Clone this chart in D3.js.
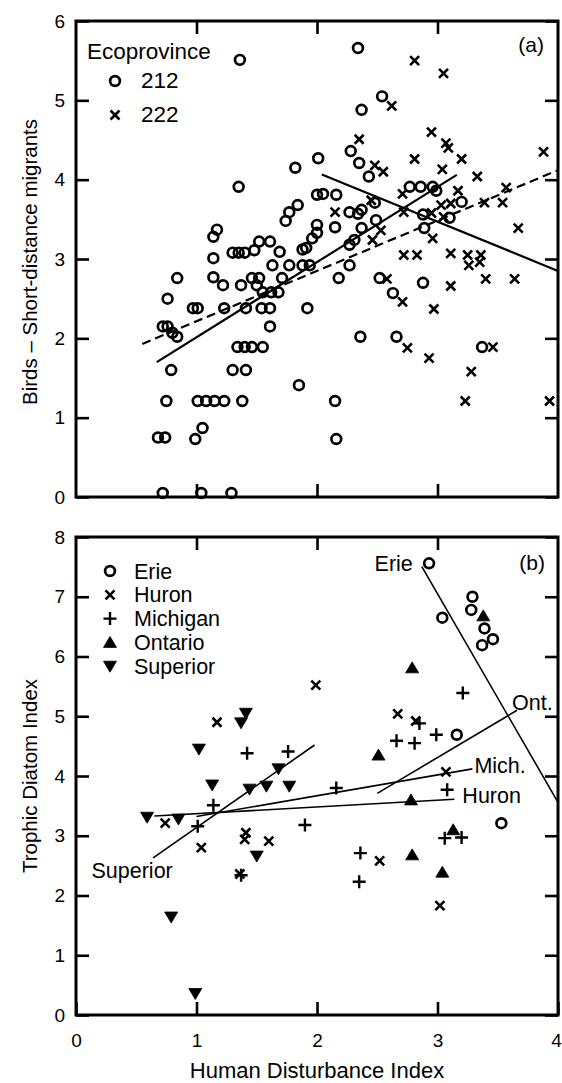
<!DOCTYPE html>
<html>
<head>
<meta charset="utf-8">
<script src="https://cdn.jsdelivr.net/npm/d3@7"></script>
<style>
  body { margin: 0; background: #fff; }
  text { font-family: "Liberation Sans", Arial, Helvetica, sans-serif; fill: #000; }
</style>
</head>
<body>
<svg id="chart" width="562" height="1083"></svg>
<script>
// ---- panel (a): birds, short-distance migrants ----
var eco212 = [
  [1.36,5.51],[2.34,5.66],[2.54,5.05],[2.37,4.88],[2.28,4.36],[1.82,4.15],[2.01,4.27],[2.35,4.21],
  [2.43,4.04],[1.35,3.91],[2.00,3.81],[2.05,3.82],[2.16,3.81],[1.84,3.68],[1.77,3.59],[1.74,3.48],
  [2.77,3.91],[2.86,3.91],[2.96,3.91],[2.99,3.86],[2.48,3.71],[3.20,3.72],[2.27,3.59],[2.34,3.57],
  [2.37,3.62],[2.49,3.49],[2.00,3.43],[2.00,3.33],[1.96,3.26],[1.91,3.14],[2.15,3.40],[2.37,3.39],
  [2.31,3.24],[2.27,3.18],[2.89,3.39],[2.88,3.56],[3.10,3.52],[1.17,3.37],[1.14,3.28],[1.30,3.08],
  [1.35,3.08],[1.40,3.08],[1.48,3.11],[1.52,3.22],[1.61,3.22],[1.69,3.09],[1.88,3.12],[1.14,3.01],
  [1.63,2.92],[1.77,2.92],[1.88,2.92],[1.94,2.92],[2.27,2.92],[0.84,2.76],[1.14,2.77],[1.22,2.67],
  [1.37,2.67],[1.46,2.76],[1.52,2.76],[1.50,2.67],[1.71,2.76],[2.18,2.76],[2.52,2.76],[2.88,2.70],
  [2.63,2.57],[0.76,2.50],[1.55,2.58],[1.62,2.58],[1.68,2.58],[0.72,2.15],[0.76,2.15],[0.80,2.07],
  [0.84,2.02],[0.97,2.38],[1.01,2.38],[1.23,2.38],[1.41,2.38],[1.54,2.38],[1.61,2.38],[1.92,2.38],
  [1.61,2.15],[2.36,2.02],[2.66,2.02],[3.37,1.89],[1.34,1.89],[1.40,1.89],[1.46,1.89],[1.55,1.89],
  [0.79,1.60],[1.30,1.60],[1.41,1.60],[1.85,1.41],[0.75,1.21],[1.01,1.21],[1.08,1.21],[1.15,1.21],
  [1.23,1.21],[1.38,1.21],[2.15,1.21],[1.05,0.87],[0.99,0.73],[0.68,0.75],[0.74,0.75],[2.16,0.73],
  [0.72,0.05],[1.04,0.05],[1.29,0.05]
];
var eco222 = [
  [2.81,5.50],[3.05,5.34],[2.62,4.93],[2.35,4.51],[2.95,4.60],[3.07,4.46],[3.09,4.40],[3.20,4.26],
  [2.81,4.26],[2.48,4.18],[2.55,4.10],[3.04,4.13],[3.88,4.35],[3.33,4.04],[3.57,3.90],[3.17,3.86],
  [2.71,3.82],[2.45,3.74],[3.03,3.68],[3.11,3.70],[3.39,3.71],[3.54,3.71],[2.15,3.59],[2.72,3.59],
  [2.95,3.58],[3.05,3.53],[2.53,3.36],[2.46,3.24],[2.96,3.26],[3.67,3.39],[2.72,3.05],[2.83,3.05],
  [3.11,3.07],[3.25,3.05],[3.36,3.05],[3.35,2.96],[3.26,2.92],[2.58,2.75],[3.40,2.75],[3.64,2.75],
  [2.71,2.46],[3.11,2.66],[2.97,2.37],[2.75,1.88],[2.93,1.75],[3.46,1.89],[3.28,1.58],[3.23,1.21],
  [3.93,1.21]
];
// fitted lines: y = intercept + slope * x, drawn between from..to
var fitNamesA     = ["212", "all", "222"];
var fitInterceptA = [1.065, 1.58, 5.33];
var fitSlopeA     = [0.948, 0.635, -0.62];
var fitFromA      = [0.67, 0.55, 2.04];
var fitToA        = [3.16, 4.00, 4.00];
var yTicksA = [0, 1, 2, 3, 4, 5, 6];

// ---- panel (b): trophic diatom index ----
var lakes = ["Erie", "Huron", "Michigan", "Ontario", "Superior"];
var erie = [[2.93,7.56],[3.04,6.65],[3.29,7.00],[3.28,6.78],[3.39,6.47],[3.46,6.29],[3.37,6.19],[3.16,4.69],[3.53,3.21]];
var huron = [[1.99,5.52],[2.67,5.04],[2.82,4.92],[1.17,4.90],[3.07,4.07],[0.74,3.21],[1.41,3.05],[1.40,2.94],
  [1.60,2.91],[1.04,2.80],[1.36,2.36],[2.52,2.58],[3.02,1.83]];
var michigan = [[3.21,5.39],[2.85,4.88],[2.66,4.59],[2.81,4.55],[2.99,4.69],[1.42,4.38],[1.76,4.41],[2.16,3.80],
  [3.08,3.77],[1.14,3.51],[1.01,3.16],[1.90,3.18],[3.06,2.96],[3.20,2.97],[2.36,2.71],[2.35,2.23],[1.37,2.34]];
var ontario = [[3.38,6.68],[2.79,5.81],[2.51,4.35],[2.78,3.60],[3.13,3.10],[2.79,2.68],[3.04,2.39]];
var superior = [[1.41,5.05],[1.37,4.89],[1.02,4.45],[1.68,4.12],[1.13,3.85],[1.44,3.78],[1.58,3.83],[1.77,3.83],
  [0.59,3.31],[0.85,3.28],[1.50,2.66],[0.79,1.64],[0.99,0.36]];
var fitInterceptB = [17.52, 3.257, 2.974, 0.715, 1.727];
var fitSlopeB     = [-3.49, 0.1124, 0.348, 1.198, 1.41];
var fitFromB      = [2.87, 0.65, 1.00, 2.50, 0.64];
var fitToB        = [4.00, 3.14, 3.29, 3.66, 1.98];
var fitLabelB     = ["Erie", "Huron", "Mich.", "Ont.", "Superior"];
var yTicksB = [0, 1, 2, 3, 4, 5, 6, 7, 8];
var xTicks = [0, 1, 2, 3, 4];

// ---- layout ----
var L = 76, R = 558;
var svg = d3.select("#chart");
var x = d3.scaleLinear().domain([0, 4]).range([L, R]);
var yA = d3.scaleLinear().domain([0, 6]).range([497, 21]);
var yB = d3.scaleLinear().domain([0, 8]).range([1015, 537]);

var shapes = {
  circle: d3.symbol(d3.symbolCircle, 75)(),
  times: "M-4.5,-4.5L4.5,4.5M-4.5,4.5L4.5,-4.5",
  plus: "M-6.5,0H6.5M0,-6.5V6.5",
  triUp: "M0,-6L6.5,5L-6.5,5Z",
  triDown: "M0,6L6.5,-5L-6.5,-5Z"
};
var styleOf = {
  circle: { fill: "none", sw: 2.7 },
  times: { fill: "none", sw: 2.6 },
  plus: { fill: "none", sw: 2.4 },
  triUp: { fill: "#000", sw: 0.8 },
  triDown: { fill: "#000", sw: 0.8 }
};

function frame(y, ticks, labelsX) {
  var g = svg.append("g");
  var y0 = y.range()[0], y1 = y.range()[1];
  g.append("g").attr("transform", "translate(" + L + ",0)")
    .call(d3.axisLeft(y).tickValues(ticks).tickSize(-13).tickPadding(11).tickFormat(d3.format("d")));
  g.append("g").attr("transform", "translate(" + R + ",0)")
    .call(d3.axisRight(y).tickValues(ticks).tickSize(-13).tickFormat(""));
  g.append("g").attr("transform", "translate(0," + y1 + ")")
    .call(d3.axisTop(x).tickValues([1, 2, 3]).tickSize(-13).tickFormat(""));
  var bottom = g.append("g").attr("transform", "translate(0," + y0 + ")")
    .call(d3.axisBottom(x).tickValues(labelsX ? xTicks : [1, 2, 3]).tickSize(-13).tickPadding(19)
      .tickFormat(labelsX ? d3.format("d") : ""));
  // last label sits on the window edge; nudge it in so it stays whole
  bottom.selectAll(".tick text").filter(function (d) { return d === 4; }).attr("dx", -2);
  g.selectAll(".domain").remove();
  g.selectAll(".tick line").attr("stroke", "#000").attr("stroke-width", 2.6);
  g.selectAll(".tick text").attr("font-size", 19).attr("font-family", "Liberation Sans, Arial, sans-serif");
  g.append("rect").attr("x", L).attr("y", y1).attr("width", R - L).attr("height", y0 - y1)
    .attr("fill", "none").attr("stroke", "#000").attr("stroke-width", 3);
  return g;
}

function points(data, y, shape) {
  svg.append("g").selectAll("path").data(data).enter().append("path")
    .attr("transform", function (d) { return "translate(" + x(d[0]) + "," + y(d[1]) + ")"; })
    .attr("d", shapes[shape])
    .attr("fill", styleOf[shape].fill)
    .attr("stroke", "#000")
    .attr("stroke-width", styleOf[shape].sw);
}

function fitLine(b0, b1, from, to) {
  return [[from, b0 + b1 * from], [to, b0 + b1 * to]];
}
var line = function (y) {
  return d3.line().x(function (d) { return x(d[0]); }).y(function (d) { return y(d[1]); });
};

// ---- panel (a) ----
frame(yA, yTicksA, false);
var dashA = [null, "9,5", null];
fitNamesA.forEach(function (n, i) {
  svg.append("path")
    .attr("d", line(yA)(fitLine(fitInterceptA[i], fitSlopeA[i], fitFromA[i], fitToA[i])))
    .attr("stroke", "#000").attr("stroke-width", 2.2).attr("fill", "none")
    .attr("stroke-dasharray", dashA[i]);
});
points(eco212, yA, "circle");
points(eco222, yA, "times");

svg.append("text").attr("x", 87).attr("y", 59).attr("font-size", 22.5).text("Ecoprovince");
var legA = [["212", "circle"], ["222", "times"]];
legA.forEach(function (d, i) {
  var cy = 81 + i * 34;
  svg.append("path").attr("transform", "translate(115," + cy + ")").attr("d", shapes[d[1]])
    .attr("fill", "none").attr("stroke", "#000").attr("stroke-width", styleOf[d[1]].sw);
  svg.append("text").attr("x", 141).attr("y", cy + 7).attr("font-size", 22.5).text(d[0]);
});
svg.append("text").attr("x", 544).attr("y", 52).attr("font-size", 21).attr("text-anchor", "end").text("(a)");
svg.append("text").attr("transform", "translate(37,262) rotate(-90)").attr("text-anchor", "middle")
  .attr("font-size", 20.5).text("Birds \u2013 Short-distance migrants");

// ---- panel (b) ----
frame(yB, yTicksB, true);
var labelOffset = [[-9, 4, "end"], [8, 4, "start"], [2, 4, "start"], [-5, 0, "start"], [-21, 20, "middle"]];
var labelAtStart = [true, false, false, false, true];
lakes.forEach(function (n, i) {
  var seg = fitLine(fitInterceptB[i], fitSlopeB[i], fitFromB[i], fitToB[i]);
  svg.append("path").attr("d", line(yB)(seg))
    .attr("stroke", "#000").attr("stroke-width", 1.6).attr("fill", "none");
  var p = labelAtStart[i] ? seg[0] : seg[1];
  svg.append("text").attr("x", x(p[0]) + labelOffset[i][0]).attr("y", yB(p[1]) + labelOffset[i][1])
    .attr("text-anchor", labelOffset[i][2]).attr("font-size", 21.5).text(fitLabelB[i]);
});
var lakeShapes = ["circle", "times", "plus", "triUp", "triDown"];
var lakeData = [erie, huron, michigan, ontario, superior];
lakeData.forEach(function (d, i) { points(d, yB, lakeShapes[i]); });

lakes.forEach(function (n, i) {
  var cy = 571 + i * 23.8;
  svg.append("path").attr("transform", "translate(110," + cy + ")").attr("d", shapes[lakeShapes[i]])
    .attr("fill", styleOf[lakeShapes[i]].fill).attr("stroke", "#000")
    .attr("stroke-width", styleOf[lakeShapes[i]].sw);
  svg.append("text").attr("x", 134).attr("y", cy + 7.5).attr("font-size", 21.5).text(n);
});
svg.append("text").attr("x", 545).attr("y", 570).attr("font-size", 21).attr("text-anchor", "end").text("(b)");
svg.append("text").attr("transform", "translate(37,776) rotate(-90)").attr("text-anchor", "middle")
  .attr("font-size", 20.5).text("Trophic Diatom Index");
svg.append("text").attr("x", (L + R) / 2).attr("y", 1078).attr("text-anchor", "middle")
  .attr("font-size", 22).text("Human Disturbance Index");
</script>
</body>
</html>
